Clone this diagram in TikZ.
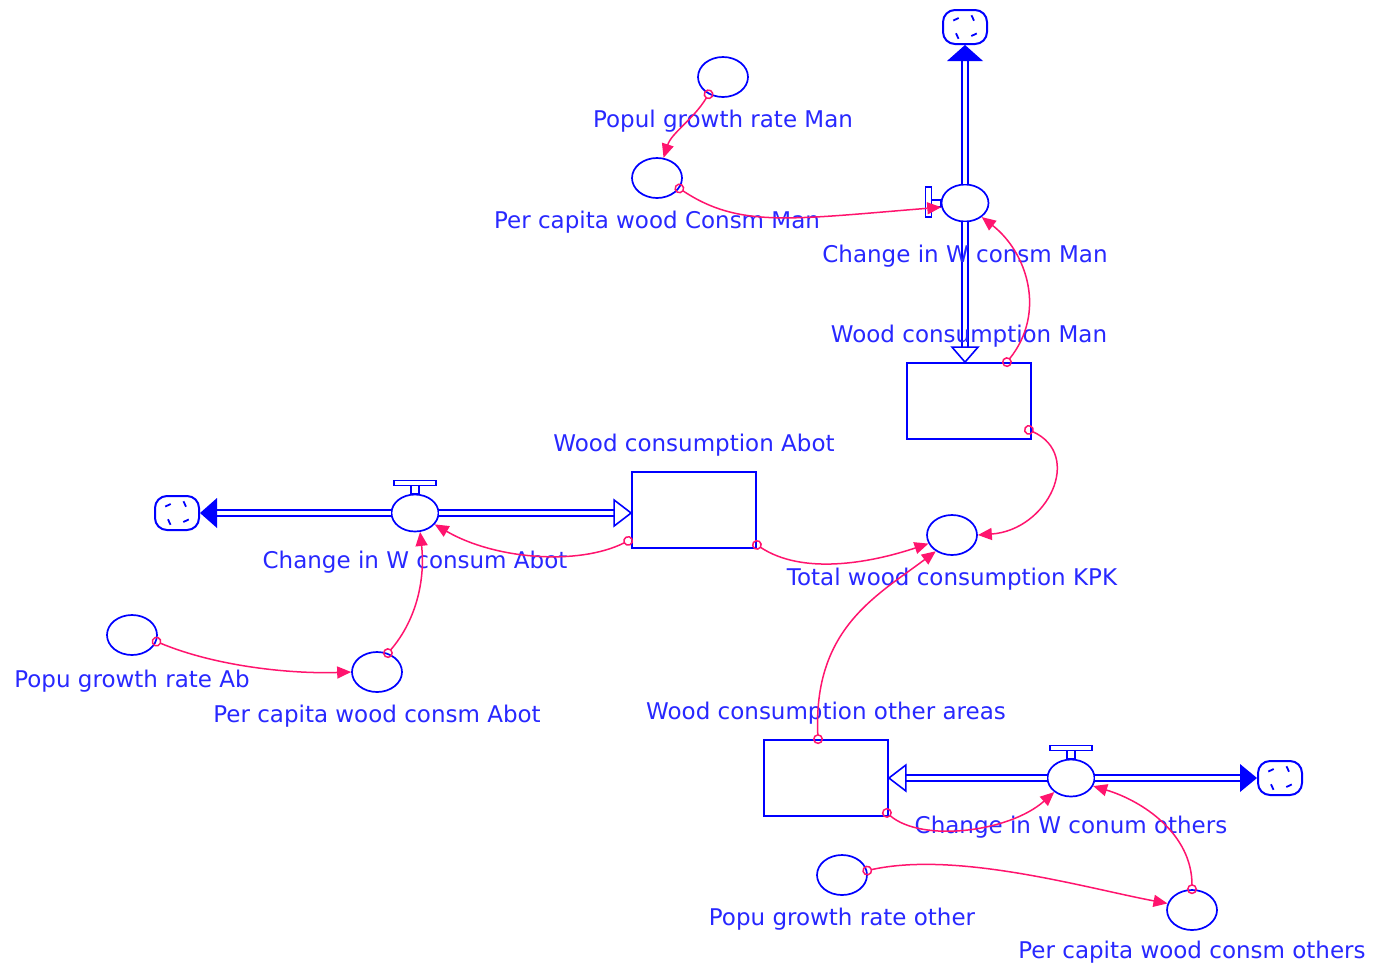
\documentclass[tikz,border=0pt]{standalone}
\usepackage{fontspec}
\setmainfont{DejaVu Sans}
\usetikzlibrary{shapes.geometric,positioning,calc,arrows.meta}

\definecolor{vblue}{RGB}{0,0,255}
\definecolor{vtext}{RGB}{40,40,255}
\definecolor{vlink}{RGB}{255,20,110}

\begin{document}
\begin{tikzpicture}[x=0.5pt, y=-0.5pt,
        aux/.style={ellipse, draw=vblue, line width=0.85pt, fill=white, minimum width=25pt, minimum height=20pt, inner sep=0pt},
        valve/.style={ellipse, draw=vblue, line width=0.85pt, fill=white, minimum width=23.5pt, minimum height=18.5pt, inner sep=0pt},
        stock/.style={rectangle, draw=vblue, line width=0.9pt, minimum width=62pt, minimum height=38pt, inner sep=0pt},
        sinkcloud/.style={rectangle, rounded corners=6pt, draw=vblue, line width=1pt, fill=white, minimum width=22pt, minimum height=17pt, inner sep=0pt,
            path picture={
                \foreach \a in {35,125,215,305}
                    \draw[vblue, line width=0.9pt] ($(path picture bounding box.center)+(\a:5.5pt)$) -- +(\a+80:3pt);
            }},
        handle/.style={draw=vblue, line width=0.7pt, fill=white},
        lbl/.style={text=vtext, font=\fontsize{11.5}{13}\selectfont, inner sep=0pt},
        pipe/.style={draw=vblue, line width=0.9pt, double=white, double distance=2pt},
        outhead/.style={fill=vblue},
        inhead/.style={draw=vblue, line width=0.8pt, fill=white},
        link/.style={draw=vlink, line width=0.75pt, arrows={Circle[open,length=5pt,width=5pt]-Triangle[length=7pt,width=6pt]}, shorten <=-2.5pt}]

    \path[fill=white, use as bounding box] (0,0) rectangle (1374,965);

    % stocks
    \node[stock] (sman) at (969,401) {};
    \node[stock] (sabot) at (694,510) {};
    \node[stock] (sother) at (826,778) {};

    % rates
    \node[valve] (vman) at (965,203) {};
    \node[valve] (vabot) at (415,513) {};
    \node[valve] (vother) at (1071,778) {};

    % sources / sinks
    \node[sinkcloud] (cman) at (965,27) {};
    \node[sinkcloud] (cabot) at (177,513) {};
    \node[sinkcloud] (cother) at (1280,778) {};

    % auxiliaries
    \node[aux] (pgman) at (723,77) {};
    \node[aux] (pcman) at (657,178) {};
    \node[aux] (tot) at (952,535) {};
    \node[aux] (pgab) at (132,635) {};
    \node[aux] (pcabot) at (377,672) {};
    \node[aux] (pgother) at (842,875) {};
    \node[aux] (pcother) at (1192,910) {};

    % pipes: Man
    \coordinate (manin) at (vman.south |- sman.north);
    \draw[pipe] (vman.north) -- ($(cman.south)+(0,16)$);
    \fill[outhead] (cman.south) -- ++(-18,16) -- ++(36,0) -- cycle;
    \draw[pipe] (vman.south) -- ($(manin)+(0,-15)$);
    \draw[inhead] (manin) -- ++(-13,-15) -- ++(26,0) -- cycle;

    % pipes: Abot
    \coordinate (abotin) at (vabot.east -| sabot.west);
    \draw[pipe] (vabot.west) -- ($(cabot.east)+(17,0)$);
    \fill[outhead] (cabot.east) -- ++(17,-15) -- ++(0,30) -- cycle;
    \draw[pipe] (vabot.east) -- ($(abotin)+(-17,0)$);
    \draw[inhead] (abotin) -- ++(-17,-13) -- ++(0,26) -- cycle;

    % pipes: other areas
    \coordinate (otherin) at (vother.west -| sother.east);
    \draw[pipe] (vother.east) -- ($(cother.west)+(-17,0)$);
    \fill[outhead] (cother.west) -- ++(-17,-14) -- ++(0,28) -- cycle;
    \draw[pipe] (vother.west) -- ($(otherin)+(17,0)$);
    \draw[inhead] (otherin) -- ++(17,-13) -- ++(0,26) -- cycle;

    % valve handles
    \draw[handle] ($(vman.west)+(-9,-3)$) rectangle ($(vman.west)+(0,4)$);
    \draw[handle] ($(vman.west)+(-15,-16)$) rectangle ($(vman.west)+(-9,14)$);
    \draw[handle] ($(vabot.north)+(-4,0)$) rectangle ($(vabot.north)+(4,-8)$);
    \draw[handle] ($(vabot.north)+(-21,-8)$) rectangle ($(vabot.north)+(21,-13)$);
    \draw[handle] ($(vother.north)+(-4,0)$) rectangle ($(vother.north)+(4,-8)$);
    \draw[handle] ($(vother.north)+(-21,-8)$) rectangle ($(vother.north)+(21,-13)$);

    % names
    \node[lbl, below=6pt of pgman] (pgmantxt) {Popul growth rate Man};
    \node[lbl, below=6pt of pcman] (pcmantxt) {Per capita wood Consm Man};
    \node[lbl, below=11pt of vman] (vmantxt) {Change in W consm Man};
    \node[lbl, above=7pt of sman] (smantxt) {Wood consumption Man};
    \node[lbl, above=7pt of sabot] (sabottxt) {Wood consumption Abot};
    \node[lbl, below=9pt of vabot] (vabottxt) {Change in W consum Abot};
    \node[lbl, below=6pt of tot] (tottxt) {Total wood consumption KPK};
    \node[lbl, below=7pt of pgab] (pgabtxt) {Popu growth rate Ab};
    \node[lbl, below=6pt of pcabot] (pcabottxt) {Per capita wood consm Abot};
    \node[lbl, above=7pt of sother] (sothertxt) {Wood consumption other areas};
    \node[lbl, below=9pt of vother] (vothertxt) {Change in W conum others};
    \node[lbl, below=6pt of pgother] (pgothertxt) {Popu growth rate other};
    \node[lbl, below=5pt of pcother] (pcothertxt) {Per capita wood consm others};

    % causal links
    \draw[link] (pgman.230) .. controls +(-15,25) and +(8,-25) .. (pcman.72);
    \draw[link] (pcman.-25) .. controls +(60,40) and +(-150,12) .. (vman.190);
    \draw[link] ($(sman.north east)+(-25,0)$) .. controls +(40,-50) and +(45,35) .. (vman.-40);
    \draw[link] ($(sman.south east)+(-3,-10)$) .. controls +(55,25) and +(70,-5) .. (tot.east);
    \draw[link] ($(sabot.south east)+(0,-4)$) .. controls +(45,30) and +(-60,20) .. (tot.200);
    \draw[link] ($(sabot.south west)+(-3,-8)$) .. controls +(-50,25) and +(60,35) .. (vabot.-30);
    \draw[link] (pcabot.60) .. controls +(30,-35) and +(5,45) .. (vabot.-75);
    \draw[link] (pgab.-15) .. controls +(60,25) and +(-60,2) .. (pcabot.180);
    \draw[link] ($(sother.north)+(-8,0)$) .. controls +(-5,-110) and +(-60,45) .. (tot.225);
    \draw[link] ($(sother.south east)+(-2,-4)$) .. controls +(35,30) and +(-45,40) .. (vother.-140);
    \draw[link] (pcother.north) .. controls +(0,-55) and +(50,15) .. (vother.-20);
    \draw[link] (pgother.10) .. controls +(90,-20) and +(-80,-15) .. (pcother.165);

\end{tikzpicture}
\end{document}
